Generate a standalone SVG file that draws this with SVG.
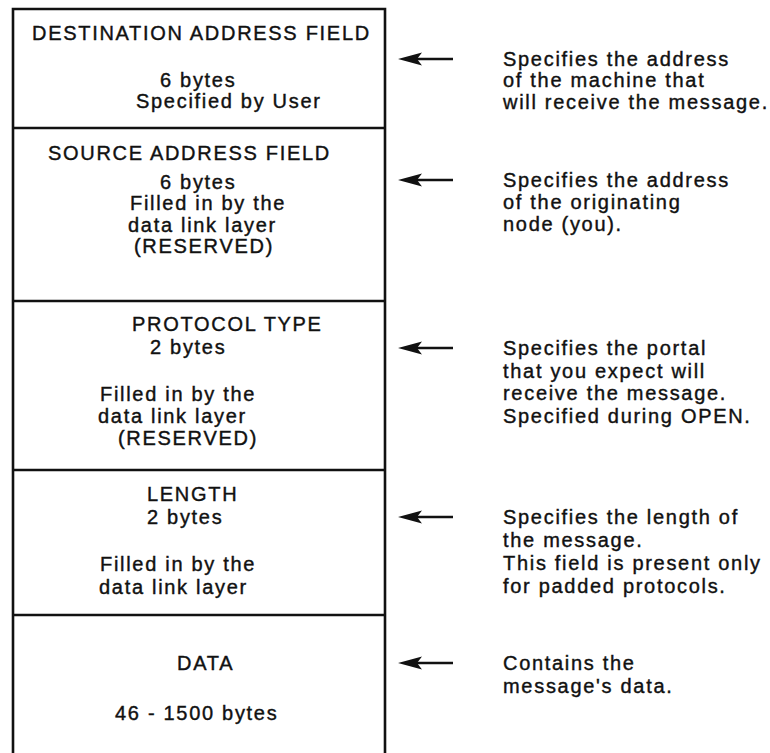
<svg xmlns="http://www.w3.org/2000/svg" width="770" height="753" viewBox="0 0 770 753">
  <style>
    .frame { fill: none; stroke: #111; stroke-width: 2.6; }
    .div { stroke: #111; stroke-width: 2.6; }
    .shaft { stroke: #111; stroke-width: 2.6; }
    .head { fill: #111; }
    text { font-family: "Liberation Sans", Arial, Helvetica, sans-serif; font-size: 20px; letter-spacing: 1.7px; fill: #111; stroke: #111; stroke-width: 0.4; }
  </style>
  <defs>
    <path id="arrowhead" class="head" d="M0,0 L24,-6.5 L19,0 L24,6.5 Z"/>
  </defs>

  <rect width="770" height="753" fill="#fff"/>

  <!-- frame: open at the bottom, the data field runs on -->
  <path class="frame" d="M13,760 L13,9 L385,9 L385,760"/>

  <g id="field-destination">
    <line class="div" x1="13" y1="128" x2="385" y2="128"/>
    <text x="32" y="40">DESTINATION ADDRESS FIELD</text>
    <text x="160" y="87">6 bytes</text>
    <text x="136" y="108">Specified by User</text>
    <text x="503" y="66">Specifies the address</text>
    <text x="503" y="87">of the machine that</text>
    <text x="503" y="109">will receive the message.</text>
  </g>

  <g id="field-source">
    <line class="div" x1="13" y1="301" x2="385" y2="301"/>
    <text x="48" y="160">SOURCE ADDRESS FIELD</text>
    <text x="160" y="189">6 bytes</text>
    <text x="130" y="210">Filled in by the</text>
    <text x="128" y="232">data link layer</text>
    <text x="134" y="253">(RESERVED)</text>
    <text x="503" y="187">Specifies the address</text>
    <text x="503" y="209">of the originating</text>
    <text x="503" y="231">node (you).</text>
  </g>

  <g id="field-protocol">
    <line class="div" x1="13" y1="470" x2="385" y2="470"/>
    <text x="132" y="331">PROTOCOL TYPE</text>
    <text x="150" y="354">2 bytes</text>
    <text x="100" y="401">Filled in by the</text>
    <text x="98" y="423">data link layer</text>
    <text x="118" y="445">(RESERVED)</text>
    <text x="503" y="355">Specifies the portal</text>
    <text x="503" y="378">that you expect will</text>
    <text x="503" y="400">receive the message.</text>
    <text x="503" y="423">Specified during OPEN.</text>
  </g>

  <g id="field-length">
    <line class="div" x1="13" y1="615" x2="385" y2="615"/>
    <text x="147" y="501">LENGTH</text>
    <text x="147" y="524">2 bytes</text>
    <text x="100" y="571">Filled in by the</text>
    <text x="99" y="594">data link layer</text>
    <text x="503" y="524">Specifies the length of</text>
    <text x="503" y="547">the message.</text>
    <text x="503" y="570">This field is present only</text>
    <text x="503" y="593">for padded protocols.</text>
  </g>

  <g id="field-data">
    <text x="177" y="670">DATA</text>
    <text x="115" y="720">46 - 1500 bytes</text>
    <text x="503" y="670">Contains the</text>
    <text x="503" y="693">message's data.</text>
  </g>

  <!-- pointers from each description back to its field -->
  <g id="connectors">
    <line class="shaft" x1="412" y1="59" x2="453" y2="59"/>
    <use href="#arrowhead" x="398" y="59"/>
    <line class="shaft" x1="412" y1="180" x2="453" y2="180"/>
    <use href="#arrowhead" x="398" y="180"/>
    <line class="shaft" x1="412" y1="348" x2="453" y2="348"/>
    <use href="#arrowhead" x="398" y="348"/>
    <line class="shaft" x1="412" y1="517" x2="453" y2="517"/>
    <use href="#arrowhead" x="398" y="517"/>
    <line class="shaft" x1="412" y1="663" x2="453" y2="663"/>
    <use href="#arrowhead" x="398" y="663"/>
  </g>
</svg>
